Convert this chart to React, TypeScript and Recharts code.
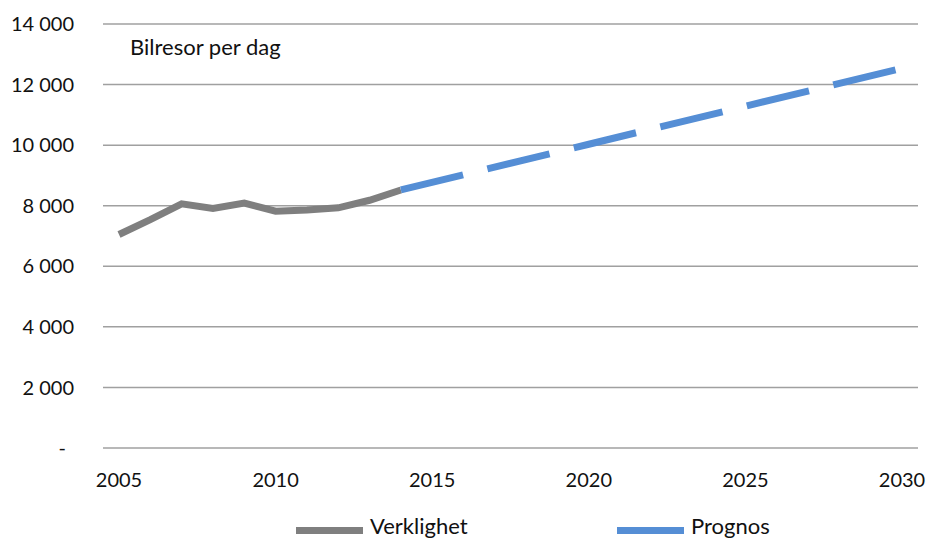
import { LineChart, Line, XAxis, YAxis, CartesianGrid } from "recharts";

// Yearly categories on the x axis
const years = [
  "2005", "2006", "2007", "2008", "2009", "2010", "2011", "2012", "2013",
  "2014", "2015", "2016", "2017", "2018", "2019", "2020", "2021", "2022",
  "2023", "2024", "2025", "2026", "2027", "2028", "2029", "2030",
];

// Observed car trips per day (2005-2014)
const verklighet: (number | null)[] = [
  7050, 7540, 8060, 7910, 8090, 7820, 7860, 7930, 8180, 8520,
  null, null, null, null, null, null, null, null, null, null, null, null, null, null, null, null,
];

// Forecast, anchored at 2014, 2020 and 2030
const prognos: (number | null)[] = [
  null, null, null, null, null, null, null, null, null, 8520,
  null, null, null, null, null, 10030,
  null, null, null, null, null, null, null, null, null, 12540,
];

const yTicks = [0, 2000, 4000, 6000, 8000, 10000, 12000, 14000];

const rows = years.map((year, i) => ({
  year,
  verklighet: verklighet[i],
  prognos: prognos[i],
}));

const FONT = "Lato, 'Noto Sans', sans-serif";
const TEXT = "#111";
const GREY = "#7f7f7f";
const BLUE = "#558ed5";

function formatThousands(v: number): string {
  if (v === 0) return "-";
  return v.toLocaleString("en-US").replace(/,/g, " ");
}

function YTick(props: any) {
  const { x, y, payload } = props;
  const label = formatThousands(payload.value);
  return (
    <text
      x={x}
      y={y}
      dx={payload.value === 0 ? -8 : 0}
      dy="0.355em"
      textAnchor="end"
      fill={TEXT}
      fontSize={20}
      fontFamily={FONT}
    >
      {label}
    </text>
  );
}

function LegendItem({ color, label, left }: { color: string; label: string; left: number }) {
  return (
    <div style={{ position: "absolute", left, top: 515, display: "flex", alignItems: "flex-start" }}>
      <div style={{ width: 67, height: 7, background: color, marginTop: 12, marginRight: 7 }} />
      <span style={{ fontSize: 22, color: TEXT, fontFamily: FONT, lineHeight: "22px", whiteSpace: "nowrap" }}>
        {label}
      </span>
    </div>
  );
}

export default function App() {
  return (
    <div style={{ position: "relative", width: 929, height: 541, background: "#fff", overflow: "hidden" }}>
      <style>{`body { margin: 0; }`}</style>
      <LineChart
        width={929}
        height={541}
        data={rows}
        margin={{ top: 24, right: 11, bottom: 33, left: 0 }}
      >
        <CartesianGrid vertical={false} stroke="#a0a0a0" strokeWidth={1.5} />
        <XAxis
          dataKey="year"
          interval={4}
          padding={{ left: 16, right: 16 }}
          axisLine={false}
          tickLine={false}
          tickSize={0}
          tickMargin={25}
          height={60}
          tick={{ fill: TEXT, fontSize: 20, fontFamily: FONT }}
        />
        <YAxis
          domain={[0, 14000]}
          ticks={yTicks}
          width={103}
          axisLine={false}
          tickLine={false}
          tickSize={0}
          tickMargin={29}
          tick={<YTick />}
        />
        <Line
          dataKey="verklighet"
          stroke={GREY}
          strokeWidth={7}
          dot={false}
          activeDot={false}
          isAnimationActive={false}
        />
        <Line
          dataKey="prognos"
          stroke={BLUE}
          strokeWidth={7}
          strokeDasharray="64 25"
          connectNulls
          dot={false}
          activeDot={false}
          isAnimationActive={false}
        />
        <text x={130} y={55} fill={TEXT} fontSize={22} fontFamily={FONT}>
          Bilresor per dag
        </text>
      </LineChart>
      <LegendItem color={GREY} label="Verklighet" left={296} />
      <LegendItem color={BLUE} label="Prognos" left={617} />
    </div>
  );
}
